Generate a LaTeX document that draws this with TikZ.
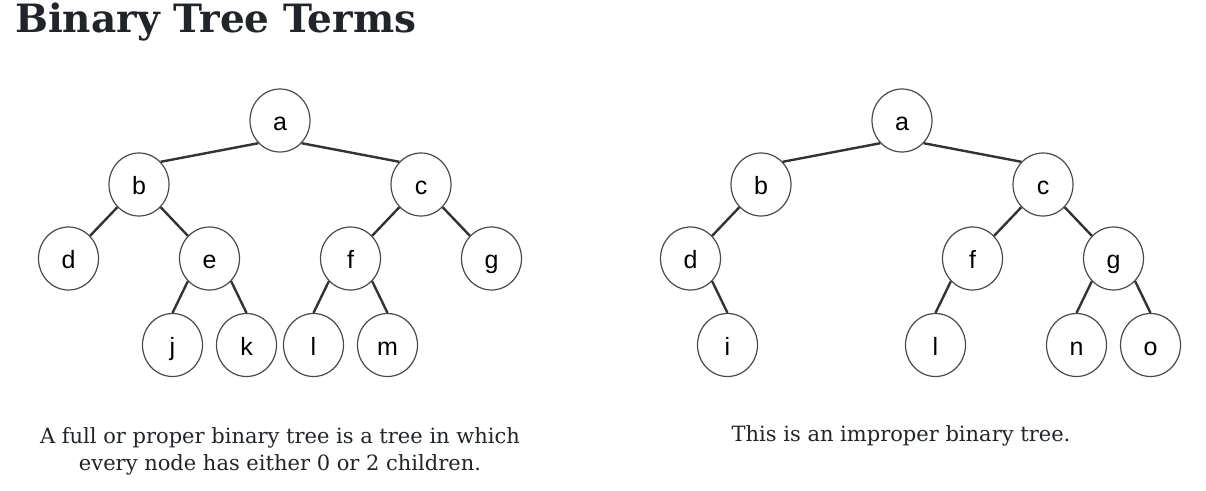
\documentclass[tikz,border=0pt]{standalone}
\usepackage{fontspec}
\usepackage{tikz}
\usetikzlibrary{shapes.geometric}
\setmainfont{DejaVu Serif}
\newfontfamily\labelfont{Liberation Sans}
\definecolor{inkdark}{HTML}{212529}
\definecolor{ringgray}{HTML}{4A4A4A}
\definecolor{edgegray}{HTML}{333333}
\tikzset{
  vert_/.style   = {shape=ellipse, draw=ringgray, line width=1.2pt, fill=white,
                    minimum width=60pt, minimum height=63pt, inner sep=0pt,
                    text height=22pt, text depth=1.2pt,
                    font=\labelfont\fontsize{25}{25}\selectfont},
  left_/.style   = {edge from parent path={(\tikzparentnode.south west) -- (\tikzchildnode.north east)}},
  right_/.style  = {edge from parent path={(\tikzparentnode.south east) -- (\tikzchildnode.north west)}},
  lleaf_/.style  = {edge from parent path={(\tikzparentnode.south west) -- (\tikzchildnode.north)}},
  rleaf_/.style  = {edge from parent path={(\tikzparentnode.south east) -- (\tikzchildnode.north)}},
  caption_/.style = {text=inkdark, align=center, inner sep=0pt,
                    font=\fontsize{21}{27.4}\selectfont}
}

\begin{document}
\begin{tikzpicture}
	[
	x = 1pt, y = 1pt,
	grow                    = down,
	level 1/.style          = {sibling distance=282pt, level distance=64pt},
	level 2/.style          = {sibling distance=141pt, level distance=74pt},
	level 3/.style          = {sibling distance=74pt, level distance=86.5pt},
	edge from parent/.style = {draw=edgegray, line width=2.4pt}
	]
	\path[fill=white, use as bounding box] (0,0) rectangle (1206,-490);
	\node [anchor=base west, inner sep=0pt, text=inkdark,
	       font=\bfseries\fontsize{39}{39}\selectfont] (title) at (15,-32) {Binary Tree Terms};
	% full tree
	\node [vert_] (la) at (280,-120.5) {a}
	child [left_] { node [vert_] (lb) {b}
		child [left_] { node [vert_] (ld) {d} }
		child [right_] { node [vert_] (le) {e}
			child [lleaf_] { node [vert_] (lj) {j} }
			child [rleaf_] { node [vert_] (lk) {k} } } }
	child [right_] { node [vert_] (lc) {c}
		child [left_] { node [vert_] (lf) {f}
			child [lleaf_] { node [vert_] (ll) {l} }
			child [rleaf_] { node [vert_] (lm) {m} } }
		child [right_] { node [vert_] (lg) {g} } };
	% improper tree
	\node [vert_] (ra) at (902,-120.5) {a}
	child [left_] { node [vert_] (rb) {b}
		child [left_] { node [vert_] (rd) {d}
			child [missing]
			child [rleaf_] { node [vert_] (ri) {i} } }
		child [missing] }
	child [right_] { node [vert_] (rc) {c}
		child [left_] { node [vert_] (rf) {f}
			child [lleaf_] { node [vert_] (rl) {l} }
			child [missing] }
		child [right_] { node [vert_] (rg) {g}
			child [lleaf_] { node [vert_] (rn) {n} }
			child [rleaf_] { node [vert_] (ro) {o} } } };
	\node [caption_, anchor=base] (fullcap) at (280,-470.7) {A full or proper binary tree is a tree in which\\every node has either 0 or 2 children.};
	\node [caption_, anchor=base] (impcap) at (901,-441) {This is an improper binary tree.};
\end{tikzpicture}
\end{document}
